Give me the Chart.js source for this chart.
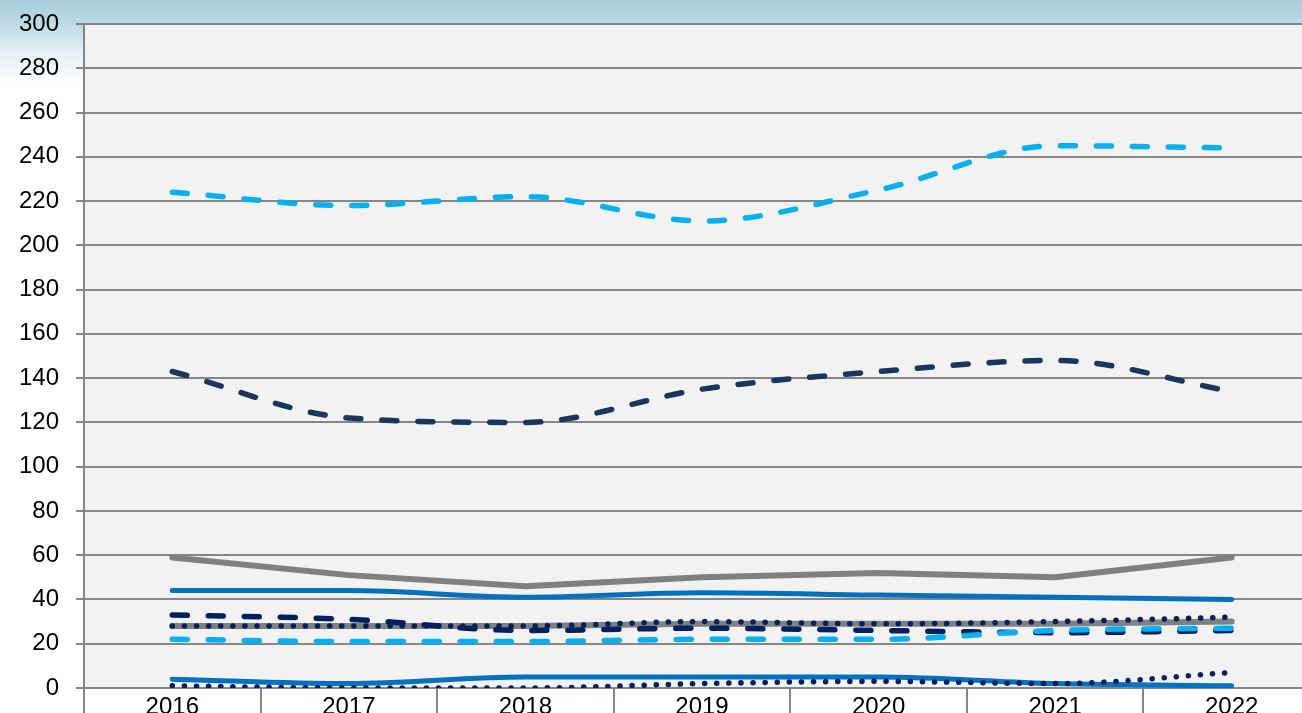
<!DOCTYPE html>
<html><head><meta charset="utf-8">
<script src="https://cdn.jsdelivr.net/npm/chart.js@4/dist/chart.umd.min.js"></script>
<style>
html,body{margin:0;padding:0;overflow:hidden;width:1302px;height:713px;}
body{background:linear-gradient(to bottom,#a8cddb 0px,#bad9e4 22px,#e2eff4 50px,#ffffff 85px);}
#wrap{position:absolute;left:0;top:0;width:1320px;height:713px;}
</style></head><body>
<div id="wrap"><canvas id="c"></canvas></div>
<script>
const years = ['2016','2017','2018','2019','2020','2021','2022'];
const lightBlueDashHigh = [224,218,222,211,225,245,244];
const navyDashHigh = [143,122,120,135,143,148,134];
const greySolidHigh = [59,51,46,50,52,50,59];
const blueSolidHigh = [44,44,41,43,42,41,40];
const navyDashLow = [33,31,26,27,26,25,26];
const lightBlueDashLow = [22,21,21,22,22,26,27];
const greySolidLow = [28,28,28,29,29,29,30];
const navyDotHigh = [28,28,28,30,29,30,32];
const blueSolidLow = [4,2,5,5,5,2,1];
const navyDotLow = [1,0,0,2,3,2,7];
const yMin = 0, yMax = 300, yStep = 20;

const GRID = '#868686';
const FONT = {family: '"Liberation Sans", Arial, sans-serif', size: 24};
function ds(label, data, color, width, dash, smooth){
  return {label, data, borderColor: color, borderWidth: width, borderDash: dash,
    borderCapStyle: 'round', borderJoinStyle: 'round',
    cubicInterpolationMode: smooth ? 'monotone' : 'default', tension: 0,
    pointRadius: 0, pointHoverRadius: 0, fill: false};
}
const DOT = [0.1, 12];
const DASH = [15, 21];
const datasets = [
  ds('Series 8', navyDotHigh, '#002060', 5.5, DOT, true),
  ds('Series 10', navyDotLow, '#002060', 5.5, DOT, true),
  ds('Series 6', lightBlueDashLow, '#00B0F0', 5.5, DASH, true),
  ds('Series 5', navyDashLow, '#002060', 5.5, DASH, true),
  ds('Series 9', blueSolidLow, '#0070C0', 5, [], true),
  ds('Series 4', blueSolidHigh, '#0070C0', 5, [], true),
  ds('Series 7', greySolidLow, '#808080', 6, [], false),
  ds('Series 3', greySolidHigh, '#808080', 6, [], false),
  ds('Series 2', navyDashHigh, '#17375E', 5.5, DASH, true),
  ds('Series 1', lightBlueDashHigh, '#00B0F0', 5.5, DASH, true)
];

const plotBg = {id:'plotBg', beforeDraw(chart){
  const {ctx, chartArea:a} = chart; ctx.save(); ctx.fillStyle='#f2f2f2';
  ctx.fillRect(a.left, a.top, a.right-a.left, a.bottom-a.top); ctx.restore();
}};

new Chart(document.getElementById('c'), {
  type: 'line',
  data: {labels: years, datasets},
  plugins: [plotBg],
  options: {
    responsive: true, maintainAspectRatio: false, animation: false,
    layout: {padding: {top: 24, left: 0, right: 0, bottom: 0}},
    plugins: {legend: {display: false}, tooltip: {enabled: false}},
    scales: {
      x: {
        offset: true,
        grid: {display: true, drawOnChartArea: false, drawTicks: true, tickLength: 30, color: GRID, lineWidth: 2, offset: true},
        border: {display: true, color: GRID, width: 2},
        ticks: {padding: -25, color: '#000', font: FONT, maxRotation: 0, autoSkip: false},
        afterFit(s){ s.height = 25; s.paddingLeft = 0; s.paddingRight = 0; }
      },
      y: {
        min: yMin, max: yMax,
        grid: {color: GRID, lineWidth: 2, tickLength: 8},
        border: {display: true, color: GRID, width: 2},
        ticks: {stepSize: yStep, padding: 17, color: '#000', font: FONT},
        afterFit(s){ s.width = 84; s.paddingTop = 0; s.paddingBottom = 0; }
      }
    }
  }
});
</script>
</body></html>
